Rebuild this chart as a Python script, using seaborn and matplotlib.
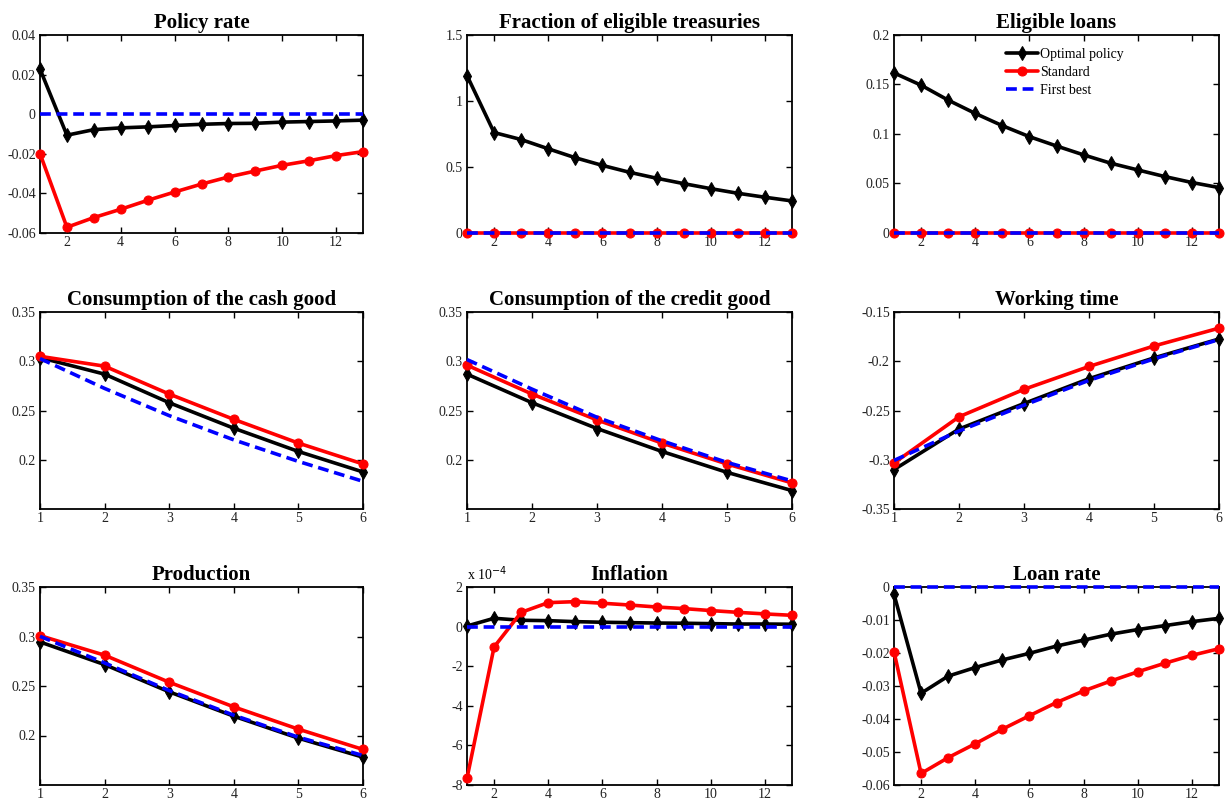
import numpy as np
import pandas as pd
import matplotlib
matplotlib.use("Agg")
import matplotlib.pyplot as plt
import seaborn as sns

# ---------------- data ----------------
t13 = list(range(1, 14))
t6 = list(range(1, 7))

policy_opt = [0.0228, -0.0106, -0.0078, -0.0069, -0.0064, -0.0057, -0.0051, -0.0047, -0.0046, -0.0040, -0.0037, -0.0034, -0.0030]
policy_std = [-0.0199, -0.0571, -0.0522, -0.0480, -0.0435, -0.0393, -0.0353, -0.0317, -0.0287, -0.0258, -0.0235, -0.0209, -0.0189]
policy_fb = [0.0] * 13

treas_opt = [1.193, 0.761, 0.708, 0.638, 0.570, 0.512, 0.460, 0.415, 0.374, 0.336, 0.301, 0.271, 0.243]
treas_std = [0.0] * 13
treas_fb = [0.0] * 13

loans_opt = [0.1617, 0.1493, 0.1342, 0.1208, 0.1084, 0.0973, 0.0879, 0.0789, 0.0705, 0.0637, 0.0570, 0.0510, 0.0459]
loans_std = [0.0] * 13
loans_fb = [0.0] * 13

cash_opt = [0.3037, 0.2869, 0.2579, 0.2320, 0.2084, 0.1876]
cash_std = [0.3050, 0.2950, 0.2667, 0.2410, 0.2169, 0.1957]
cash_fb = [0.3027, 0.2724, 0.2448, 0.2202, 0.1983, 0.1781]

credit_opt = [0.2869, 0.2579, 0.2317, 0.2084, 0.1872, 0.1687]
credit_std = [0.2960, 0.2667, 0.2404, 0.2169, 0.1957, 0.1765]
credit_fb = [0.3017, 0.2717, 0.2431, 0.2192, 0.1973, 0.1785]

work_opt = [-0.3100, -0.2688, -0.2429, -0.2177, -0.1966, -0.1774]
work_std = [-0.3033, -0.2564, -0.2285, -0.2053, -0.1845, -0.1664]
work_fb = [-0.3007, -0.2708, -0.2446, -0.2194, -0.1976, -0.1780]

prod_opt = [0.2945, 0.2716, 0.2441, 0.2195, 0.1973, 0.1781]
prod_std = [0.3009, 0.2811, 0.2538, 0.2289, 0.2064, 0.1859]
prod_fb = [0.3002, 0.2733, 0.2454, 0.2205, 0.1983, 0.1798]

# inflation in units of 1e-4
infl_opt = [0.03, 0.42, 0.32, 0.30, 0.25, 0.22, 0.20, 0.18, 0.17, 0.15, 0.13, 0.13, 0.12]
infl_std = [-7.66, -1.03, 0.72, 1.21, 1.26, 1.18, 1.09, 0.99, 0.91, 0.81, 0.72, 0.64, 0.57]
infl_fb = [0.0] * 13

loan_opt = [-0.0022, -0.0322, -0.0270, -0.0244, -0.0221, -0.0201, -0.0179, -0.0161, -0.0143, -0.0129, -0.0117, -0.0105, -0.0095]
loan_std = [-0.0196, -0.0565, -0.0517, -0.0475, -0.0431, -0.0390, -0.0350, -0.0315, -0.0285, -0.0257, -0.0231, -0.0207, -0.0187]
loan_fb = [0.0] * 13

titles = ["Policy rate", "Fraction of eligible treasuries", "Eligible loans",
          "Consumption of the cash good", "Consumption of the credit good", "Working time",
          "Production", "Inflation", "Loan rate"]
series_names = ["Optimal policy", "Standard", "First best"]

panels = [
    (t13, policy_opt, policy_std, policy_fb, (-0.06, 0.04), [-0.06, -0.04, -0.02, 0, 0.02, 0.04], ["-0.06", "-0.04", "-0.02", "0", "0.02", "0.04"]),
    (t13, treas_opt, treas_std, treas_fb, (0, 1.5), [0, 0.5, 1, 1.5], ["0", "0.5", "1", "1.5"]),
    (t13, loans_opt, loans_std, loans_fb, (0, 0.2), [0, 0.05, 0.1, 0.15, 0.2], ["0", "0.05", "0.1", "0.15", "0.2"]),
    (t6, cash_opt, cash_std, cash_fb, (0.15, 0.35), [0.2, 0.25, 0.3, 0.35], ["0.2", "0.25", "0.3", "0.35"]),
    (t6, credit_opt, credit_std, credit_fb, (0.15, 0.35), [0.2, 0.25, 0.3, 0.35], ["0.2", "0.25", "0.3", "0.35"]),
    (t6, work_opt, work_std, work_fb, (-0.35, -0.15), [-0.35, -0.3, -0.25, -0.2, -0.15], ["-0.35", "-0.3", "-0.25", "-0.2", "-0.15"]),
    (t6, prod_opt, prod_std, prod_fb, (0.15, 0.35), [0.2, 0.25, 0.3, 0.35], ["0.2", "0.25", "0.3", "0.35"]),
    (t13, infl_opt, infl_std, infl_fb, (-8, 2), [-8, -6, -4, -2, 0, 2], ["-8", "-6", "-4", "-2", "0", "2"]),
    (t13, loan_opt, loan_std, loan_fb, (-0.06, 0), [-0.06, -0.05, -0.04, -0.03, -0.02, -0.01, 0], ["-0.06", "-0.05", "-0.04", "-0.03", "-0.02", "-0.01", "0"]),
]

# ---------------- style ----------------
sns.set_theme(style="ticks")
plt.rcParams["font.family"] = ["Liberation Serif", "DejaVu Serif"]
plt.rcParams["text.color"] = "black"
plt.rcParams["axes.titlecolor"] = "black"
plt.rcParams["xtick.direction"] = "in"
plt.rcParams["ytick.direction"] = "in"

W, H = 1232, 802
fig = plt.figure(figsize=(W / 100, H / 100), dpi=100)
fig.patch.set_facecolor("white")

col_px = [(40, 363), (467, 792), (894, 1219)]
row_px = [(35, 233), (312, 509), (587, 785)]

for i, (x, yo, ys, yf, ylim, yt, ytl) in enumerate(panels):
    r, c = divmod(i, 3)
    l, rr = col_px[c]
    top, bot = row_px[r]
    ax = fig.add_axes([l / W, 1 - bot / H, (rr - l) / W, (bot - top) / H])
    ax.set_facecolor("white")
    sns.lineplot(x=x, y=yo, ax=ax, color="black", marker="d", markersize=7,
                 markeredgecolor="black", linewidth=2.6, label=series_names[0],
                 clip_on=False)
    sns.lineplot(x=x, y=ys, ax=ax, color="#ff0000", marker="o", markersize=6.5,
                 markeredgecolor="#ff0000", linewidth=2.6, label=series_names[1],
                 clip_on=False)
    sns.lineplot(x=x, y=yf, ax=ax, color="#0000ff", linestyle=(0, (3, 1.6)),
                 linewidth=2.6, label=series_names[2], clip_on=False)
    ax.set_xlim(x[0], x[-1])
    ax.set_ylim(*ylim)
    if len(x) == 13:
        ax.set_xticks([2, 4, 6, 8, 10, 12])
    else:
        ax.set_xticks(x)
    ax.set_yticks(yt)
    ax.set_yticklabels(ytl)
    ax.tick_params(axis="x", pad=2)
    ax.tick_params(axis="y", pad=3)
    ax.tick_params(axis="both", which="both", direction="in", top=True, right=True,
                   length=4, width=1, labelsize=10, colors="black",
                   labelcolor="#222222")
    for sp in ax.spines.values():
        sp.set_visible(True)
        sp.set_color("black")
        sp.set_linewidth(1.3)
        sp.set_zorder(1)
    ax.set_xlabel("")
    ax.set_ylabel("")
    ax.grid(False)
    ax.set_title(titles[i], fontsize=15, fontweight="bold", pad=5,
                 family=["Liberation Serif"])
    if i == 2:
        ax.legend(loc="upper left", bbox_to_anchor=(0.32, 0.975), frameon=False,
                  fontsize=10, handlelength=2.3, handletextpad=0.1,
                  labelspacing=0.35, borderaxespad=0.2)
    else:
        if ax.get_legend() is not None:
            ax.get_legend().remove()
    if i == 7:
        ax.text(0.0, 1.02, "x 10$^{-4}$", transform=ax.transAxes, fontsize=10,
                ha="left", va="bottom")

fig.savefig("out.png", dpi=100, facecolor="white")
